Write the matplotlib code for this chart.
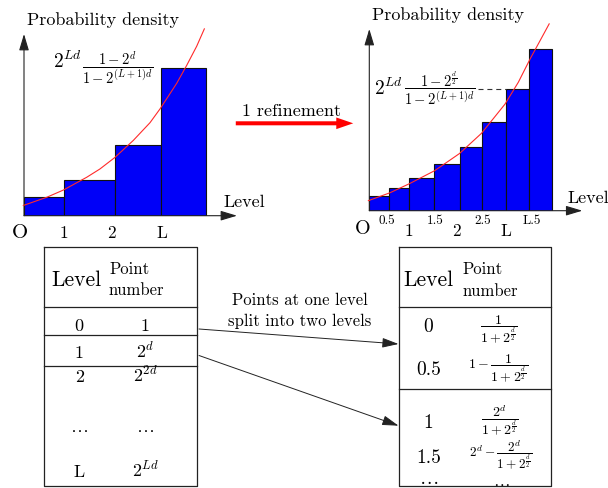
import matplotlib
matplotlib.use("Agg")
import matplotlib.pyplot as plt
from matplotlib.patches import FancyArrowPatch, ArrowStyle

plt.rcParams['mathtext.fontset'] = 'cm'
plt.rcParams['font.family'] = ['cmr10', 'DejaVu Serif']
plt.rcParams['axes.unicode_minus'] = False

# ---------------- data ----------------
# left histogram (before refinement), x in level units
left_edges = [0.0, 0.88, 1.98, 2.97]
left_widths = [0.88, 1.10, 0.99, 0.99]
left_heights = [0.97, 1.81, 3.60, 7.48]
left_tick_pos = [0.87, 1.89, 3.00]
left_tick_labels = ['1', '2', 'L']
left_curve_x = [-0.015, 0.50, 0.854, 1.363, 1.65, 1.978, 2.376, 2.739, 2.957, 3.10, 3.32, 3.537, 3.754, 3.92]
left_curve_y = [0.52, 0.94, 1.30, 1.95, 2.37, 2.96, 3.82, 4.72, 5.42, 5.93, 6.72, 7.63, 8.60, 9.48]

# right histogram (after 1 refinement)
right_edges = [0.0, 0.43, 0.87, 1.41, 1.97, 2.46, 2.97, 3.47]
right_widths = [0.43, 0.44, 0.54, 0.56, 0.49, 0.51, 0.50, 0.50]
right_heights = [0.76, 1.17, 1.64, 2.36, 3.23, 4.50, 6.18, 8.21]
right_major_pos = [0.86, 1.90, 2.97]
right_major_labels = ['1', '2', 'L']
right_minor_pos = [0.39, 1.44, 2.46, 3.53]
right_minor_labels = ['0.5', '1.5', '2.5', 'L.5']
right_curve_x = [-0.02, 0.45, 0.88, 1.42, 1.96, 2.44, 2.95, 3.24, 3.50, 3.71, 3.91]
right_curve_y = [0.51, 0.91, 1.38, 2.03, 2.90, 3.93, 5.41, 6.52, 7.72, 8.62, 9.48]

# tables
left_levels = ['0', '1', '2', r'$\ldots$', 'L']
left_points = ['1', r'$2^{d}$', r'$2^{2d}$', r'$\ldots$', r'$2^{Ld}$']
right_levels = ['0', '0.5', '1', '1.5', r'$\ldots$']
right_points = [r'$\dfrac{1}{1+2^{\frac{d}{2}}}$',
                r'$1-\dfrac{1}{1+2^{\frac{d}{2}}}$',
                r'$\dfrac{2^{d}}{1+2^{\frac{d}{2}}}$',
                r'$2^{d}-\dfrac{2^{d}}{1+2^{\frac{d}{2}}}$']

# ---------------- figure ----------------
W, H = 608, 489
fig = plt.figure(figsize=(W / 100, H / 100), dpi=100)
ax0 = fig.add_axes([0, 0, 1, 1])
ax0.set_xlim(0, W)
ax0.set_ylim(H, 0)
ax0.axis('off')

XMAX, YMAX = 4.63, 9.22
LINE = '#222222'


def hist_axes(x0, base):
    ax = fig.add_axes([x0 / W, (H - base) / H, 213 / W, 181.7 / H])
    ax.set_xlim(0, XMAX)
    ax.set_ylim(0, YMAX)
    ax.axis('off')
    for xy in [(1, 0), (0, 1)]:
        ax.annotate('', xy=xy, xytext=(0, 0), xycoords='axes fraction',
                    arrowprops=dict(arrowstyle='-|>,head_length=1.0,head_width=0.3',
                                    mutation_scale=10, color=LINE, lw=0.8,
                                    shrinkA=0, shrinkB=0))
    return ax


# left histogram
axL = hist_axes(24, 216.7)
axL.bar(left_edges, left_heights, width=left_widths, align='edge',
        color='#0000f8', edgecolor='#111111', linewidth=0.8, zorder=2)
axL.plot(left_curve_x, left_curve_y, color='#ff2a2a', lw=0.8, clip_on=False, zorder=3)
for p, lab in zip(left_tick_pos, left_tick_labels):
    axL.text(p, -0.83, lab, ha='center', va='center', fontsize=12.5)
axL.text(-0.09, -0.85, 'O', ha='center', va='center', fontsize=15)
axL.text(4.78, 0.75, 'Level', ha='center', va='center', fontsize=13)
axL.text(0.07, 9.98, 'Probability density', ha='left', va='center', fontsize=13)
axL.text(0.63, 7.53, r'$2^{Ld}$', ha='left', va='baseline', fontsize=14)
axL.text(2.04, 7.58, r'$\dfrac{1-2^{d}}{1-2^{(L+1)d}}$', ha='center',
         va='center', fontsize=10.5)

# right histogram
axR = hist_axes(369.3, 211.7)
axR.bar(right_edges, right_heights, width=right_widths, align='edge',
        color='#0000f8', edgecolor='#111111', linewidth=0.8, zorder=2)
axR.plot(right_curve_x, right_curve_y, color='#ff2a2a', lw=0.8, clip_on=False, zorder=3)
for p, lab in zip(right_major_pos, right_major_labels):
    axR.text(p, -0.98, lab, ha='center', va='center', fontsize=12.5)
for p, lab in zip(right_minor_pos, right_minor_labels):
    axR.text(p, -0.46, lab, ha='center', va='center', fontsize=9.5)
axR.text(-0.14, -0.88, 'O', ha='center', va='center', fontsize=14.5)
axR.text(4.30, 0.70, 'Level', ha='left', va='center', fontsize=13, clip_on=False)
axR.text(0.05, 9.98, 'Probability density', ha='left', va='center', fontsize=13)
axR.text(0.11, 5.92, r'$2^{Ld}$', ha='left', va='baseline', fontsize=14)
axR.text(1.537, 6.28, r'$\dfrac{1-2^{\frac{d}{2}}}{1-2^{(L+1)d}}$', ha='center',
         va='center', fontsize=10.5)
axR.plot([2.36, right_edges[6]], [right_heights[6], right_heights[6]],
         color='#333333', lw=0.8, linestyle=(0, (4.5, 3.5)))

# refinement arrow
ax0.add_patch(FancyArrowPatch((233, 124.3), (356, 124.3),
                              arrowstyle=ArrowStyle.Simple(head_length=1.22, head_width=0.84,
                                                           tail_width=0.29),
                              mutation_scale=10, color='#ff0000', lw=0))
ax0.text(291.7, 111.7, '1 refinement', ha='center', va='center', fontsize=13)

# ---------------- tables ----------------
tlw = 0.9
# left table
ax0.plot([44, 196.7, 196.7, 44, 44], [248.3, 248.3, 487.3, 487.3, 248.3], color=LINE, lw=tlw)
for yy in [307.7, 336.2, 366.5]:
    ax0.plot([44, 196.7], [yy, yy], color=LINE, lw=tlw)
ax0.text(76.3, 280, 'Level', ha='center', va='center', fontsize=15.5)
ax0.text(109, 269.5, 'Point', ha='left', va='center', fontsize=12)
ax0.text(109, 290, 'number', ha='left', va='center', fontsize=12)
left_rows_base = [331.0, 357.5, 381.5, 432.0, 477.3]
for yy, lv, pt in zip(left_rows_base, left_levels, left_points):
    ax0.text(79.3, yy, lv, ha='center', va='baseline', fontsize=13)
    ax0.text(145, yy, pt, ha='center', va='baseline', fontsize=13)

# right table
ax0.plot([399, 550.7, 550.7, 399, 399], [248.3, 248.3, 487.3, 487.3, 248.3], color=LINE, lw=tlw)
for yy in [307.7, 390]:
    ax0.plot([399, 550.7], [yy, yy], color=LINE, lw=tlw)
ax0.text(428.3, 280, 'Level', ha='center', va='center', fontsize=15.5)
ax0.text(462.5, 269.5, 'Point', ha='left', va='center', fontsize=12)
ax0.text(462.5, 291, 'number', ha='left', va='center', fontsize=12)
right_rows_base = [332.3, 375.0, 428.3, 463.3, 484.5]
right_pt_y = [329.0, 368.0, 421.0, 455.5]
right_pt_x = [499, 497.8, 500, 500.8]
right_pt_size = [10, 10, 10, 9.5]
for yy, lv in zip(right_rows_base, right_levels):
    ax0.text(428.5, yy, lv, ha='center', va='baseline', fontsize=14)
for pt, px, py, fs in zip(right_points, right_pt_x, right_pt_y, right_pt_size):
    ax0.text(px, py, pt, ha='center', va='center', fontsize=fs)
ax0.text(501.7, 485.5, r'$\ldots$', ha='center', va='baseline', fontsize=12)

# split arrows
for (xa, ya), (xb, yb) in [((199, 330), (398.5, 345)), ((199, 356.5), (398.5, 426.7))]:
    ax0.annotate('', xy=(xb, yb), xytext=(xa, ya), xycoords='data',
                 arrowprops=dict(arrowstyle='-|>,head_length=1.0,head_width=0.3',
                                 mutation_scale=10, color=LINE, lw=0.7,
                                 shrinkA=0, shrinkB=0))
ax0.text(300, 300.7, 'Points at one level', ha='center', va='center', fontsize=12)
ax0.text(300, 321, 'split into two levels', ha='center', va='center', fontsize=12)

fig.savefig('out.png', dpi=100, facecolor='white')
